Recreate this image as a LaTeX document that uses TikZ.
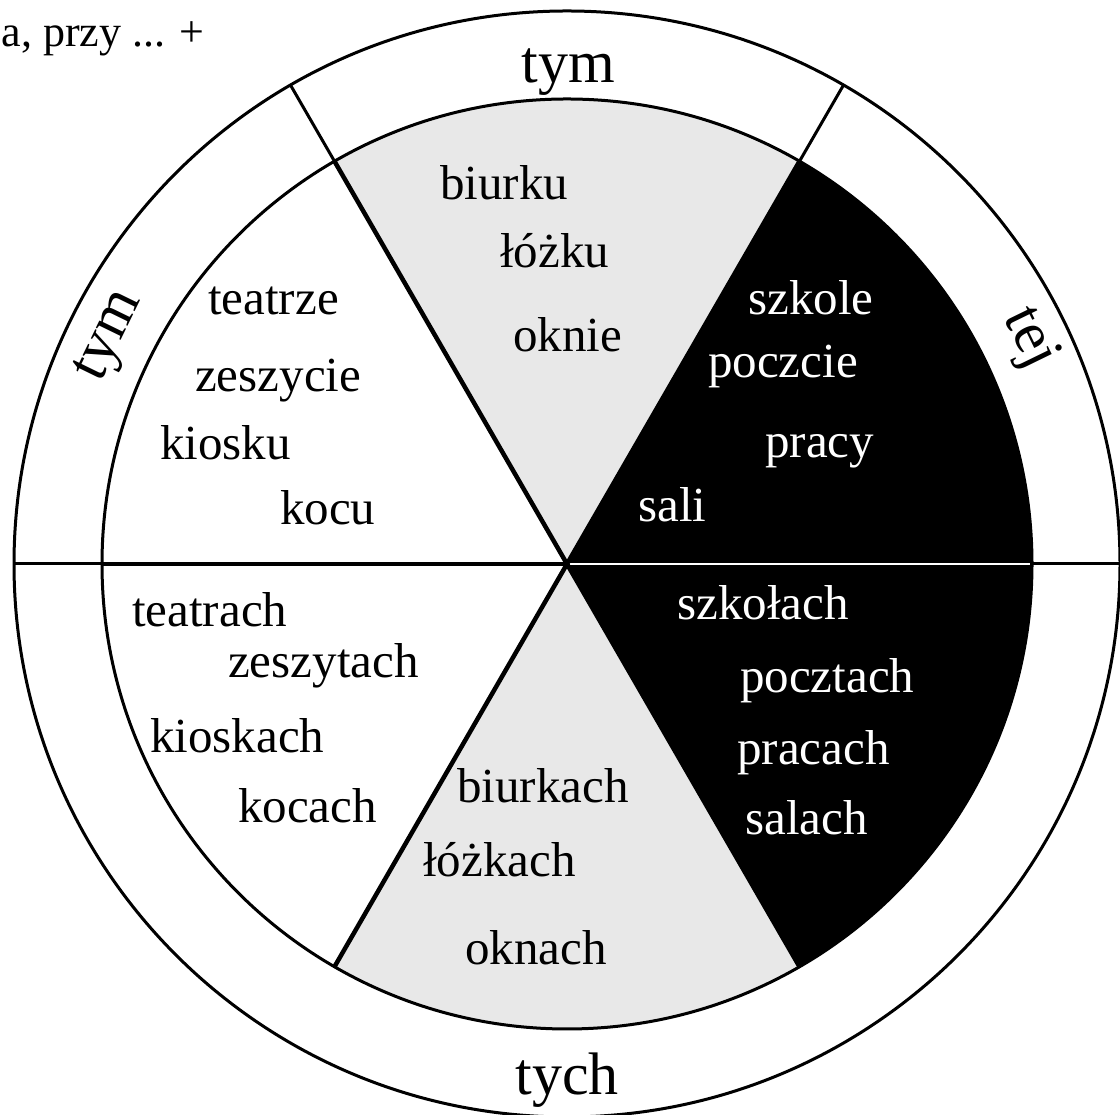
\documentclass[tikz,border=0pt]{standalone}
\usepackage{fontspec}
\setmainfont{Liberation Serif}
\usetikzlibrary{calc}

\tikzset{
  word/.style={anchor=base west, inner sep=0pt, font=\fontsize{49}{49}\selectfont},
  darkword/.style={word, text=white},
  ringword/.style={inner sep=0pt, font=\fontsize{60}{60}\selectfont},
  spoke/.style={line width=4.5pt},
  rim/.style={line width=3pt},
}

\begin{document}
\begin{tikzpicture}[x=1pt, y=1pt]
    \useasboundingbox (0,0) rectangle (1120,1115);
    \coordinate (c) at (567,551);
    % ---- the wheel: sectors, circles and spokes
    \begin{scope}[shift={(c)}]
      \fill[black!9] (0,0) -- (60:465) arc (60:120:465) -- cycle;
      \fill[black!9] (0,0) -- (240:465) arc (240:300:465) -- cycle;
      \fill[black] (0,0) -- (0:465) arc (0:60:465) -- cycle;
      \fill[black] (0,0) -- (-60:465) arc (-60:0:465) -- cycle;
      \draw[white, line width=2pt] (0,0) -- (0:463);
      \foreach \a in {60,120,180,240,300}
        \draw[spoke] (0,0) -- (\a:465);
      \foreach \a in {0,60,120,180}
        \draw[rim] (\a:465) -- (\a:553);
      \draw[rim] (0,0) circle (465);
      \draw[rim] (0,0) circle (553);
    \end{scope}
    % ---- the ring: the pronoun forms
    \node[ringword, anchor=base] (tymtop) at (568,1032) {tym};
    \node[ringword, rotate=64] (tymleft) at ($(c)+(153.5:509)$) {tym};
    \node[ringword, rotate=-64] (tej) at ($(c)+(26:514)$) {tej};
    \node[ringword, anchor=base] (tych) at (567,20) {tych};
    % ---- singular
    \node[word] (teatrze) at (208,800) {teatrze};
    \node[word] (zeszycie) at (195,723) {zeszycie};
    \node[word] (kiosku) at (160,655) {kiosku};
    \node[word] (kocu) at (280,590) {kocu};
    \node[word] (biurku) at (440,915) {biurku};
    \node[word] (lozku) at (500,847) {łóżku};
    \node[word] (oknie) at (513,763) {oknie};
    \node[darkword] (szkole) at (748,800) {szkole};
    \node[darkword] (poczcie) at (708,737) {poczcie};
    \node[darkword] (pracy) at (765,657) {pracy};
    \node[darkword] (sali) at (638,593) {sali};
    % ---- plural
    \node[word] (teatrach) at (132,488) {teatrach};
    \node[word] (zeszytach) at (228,437) {zeszytach};
    \node[word] (kioskach) at (150,362) {kioskach};
    \node[word] (kocach) at (238,292) {kocach};
    \node[word] (biurkach) at (457,312) {biurkach};
    \node[word] (lozkach) at (423,238) {łóżkach};
    \node[word] (oknach) at (465,150) {oknach};
    \node[darkword] (szkolach) at (677,495) {szkołach};
    \node[darkword] (pocztach) at (740,422) {pocztach};
    \node[darkword] (pracach) at (737,350) {pracach};
    \node[darkword] (salach) at (745,280) {salach};
    % ---- heading, cut at the left edge
    \node[anchor=base east, inner sep=0pt, font=\fontsize{44}{44}\selectfont]
      (head) at (205,1068) {a, przy ... +};
\end{tikzpicture}
\end{document}
